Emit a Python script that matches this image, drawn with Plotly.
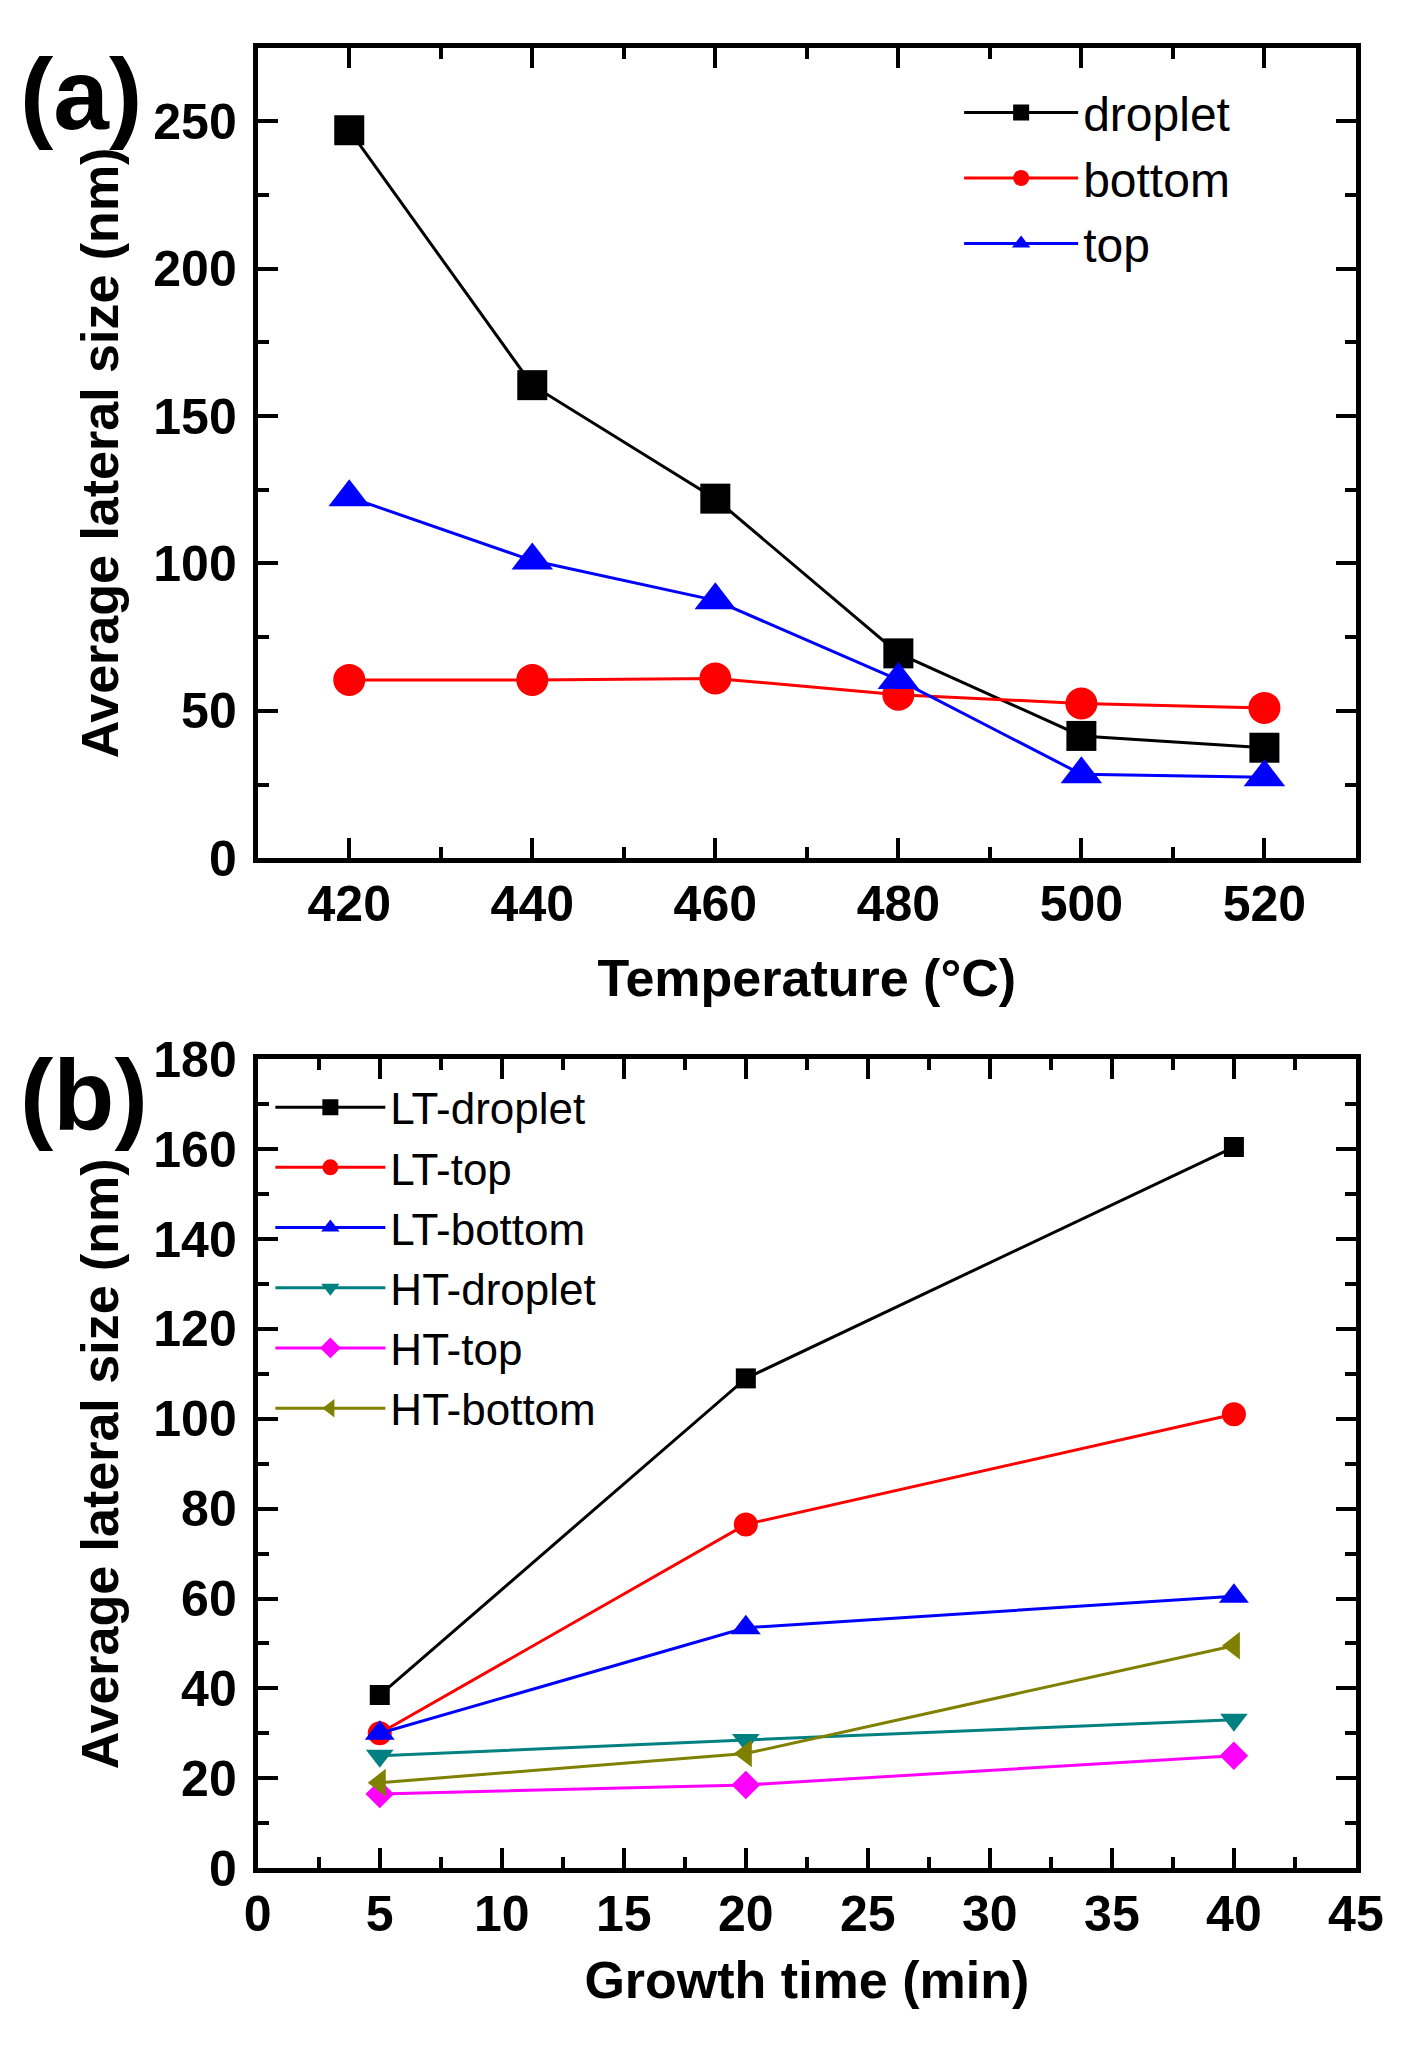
import plotly.graph_objects as go

# panel (a): size vs growth temperature
temp = [420, 440, 460, 480, 500, 520]
a_droplet = [247, 160.5, 122, 69.5, 41.5, 37.5]
a_bottom = [60.5, 60.5, 61, 55.5, 52.5, 51]
a_top = [122.5, 101, 87.5, 60.5, 28.5, 27.5]

# panel (b): size vs growth time
time_min = [5, 20, 40]
lt_droplet = [38.5, 109, 160.5]
lt_top = [30, 76.5, 101]
lt_bottom = [30, 53.5, 60.5]
ht_droplet = [25, 28.5, 33]
ht_top = [16.5, 18.5, 25]
ht_bottom = [19, 25.5, 49.5]

FONT = 'Liberation Sans, Arial, sans-serif'
# page body keeps its 8px margin, so the figure is 16px smaller than the window
W, H = 1406, 2030

fig = go.Figure()

def add(x, y, name, color, symbol, size, xa, ya, legend):
    fig.add_trace(go.Scatter(
        x=x, y=y, name=name, mode='lines+markers',
        line=dict(color=color, width=3),
        marker=dict(color=color, symbol=symbol, size=size, line=dict(width=0)),
        xaxis=xa, yaxis=ya, legend=legend))

add(temp, a_droplet, 'droplet', 'black', 'square', 30, 'x', 'y', 'legend')
add(temp, a_bottom, 'bottom', '#ff0000', 'circle', 32, 'x', 'y', 'legend')
add(temp, a_top, 'top', '#0000ff', 'triangle-up', 36, 'x', 'y', 'legend')

add(time_min, lt_droplet, 'LT-droplet', 'black', 'square', 20, 'x2', 'y2', 'legend2')
add(time_min, lt_top, 'LT-top', '#ff0000', 'circle', 24, 'x2', 'y2', 'legend2')
add(time_min, lt_bottom, 'LT-bottom', '#0000ff', 'triangle-up', 26, 'x2', 'y2', 'legend2')
add(time_min, ht_droplet, 'HT-droplet', '#008080', 'triangle-down', 24, 'x2', 'y2', 'legend2')
add(time_min, ht_top, 'HT-top', '#ff00ff', 'diamond', 22, 'x2', 'y2', 'legend2')
add(time_min, ht_bottom, 'HT-bottom', '#808000', 'triangle-left', 24, 'x2', 'y2', 'legend2')

tickfont = dict(family=FONT, size=50, color='black', weight='bold')
titlefont = dict(family=FONT, size=52, color='black', weight='bold')

def axis(dom, rng, dtick, minor, title, anchor, standoff, tls):
    return dict(domain=dom, range=rng, dtick=dtick, tick0=0, anchor=anchor,
                showgrid=False, zeroline=False, showline=True, linecolor='black',
                linewidth=5, mirror='allticks', ticks='inside', ticklen=20,
                tickwidth=4, tickcolor='black', tickfont=tickfont,
                ticklabelstandoff=tls,
                minor=dict(ticks='inside', dtick=minor, ticklen=11, tickwidth=4,
                           tickcolor='black', showgrid=False),
                title=dict(text=title, font=titlefont, standoff=standoff))

xdom = [243 / W, 1375 / W]
ya_dom = [1 - 846 / H, 1 - 12 / H]
yb_dom = [1 - 1885 / H, 1 - 1053 / H]

fig.update_layout(
    width=W, height=H,
    margin=dict(l=0, r=0, t=0, b=0),
    paper_bgcolor='white', plot_bgcolor='white',
    font=dict(family=FONT, color='black'),
    xaxis=axis(xdom, [410, 530], 20, 10, 'Temperature (°C)', 'y', 30, -2),
    yaxis=axis(ya_dom, [0, 275], 50, 25, 'Average lateral size (nm)', 'x', 20, 6),
    xaxis2=axis(xdom, [0, 45], 5, 2.5, 'Growth time (min)', 'y2', 22, -2),
    yaxis2=axis(yb_dom, [0, 180], 20, 10, 'Average lateral size (nm)', 'x2', 20, 6),
    legend=dict(x=966 / W, y=1 - 40 / H, xanchor='left', yanchor='top',
                bgcolor='rgba(0,0,0,0)', borderwidth=0,
                font=dict(family=FONT, size=48, color='black'),
                itemwidth=114, tracegroupgap=0),
    legend2=dict(x=256 / W, y=1 - 1066 / H, xanchor='left', yanchor='top',
                 bgcolor='rgba(0,0,0,0)', borderwidth=0,
                 font=dict(family=FONT, size=44, color='black'),
                 itemwidth=110, tracegroupgap=0),
    showlegend=True,
)

for lbl, ytop in [('(a)', 0), ('(b)', 1030)]:
    fig.add_annotation(text=lbl, xref='paper', yref='paper', x=-4 / W, y=1 - ytop / H,
                       xanchor='left', yanchor='top', showarrow=False,
                       font=dict(family=FONT, size=100, color='black', weight='bold'))

fig.write_html("out.html")
